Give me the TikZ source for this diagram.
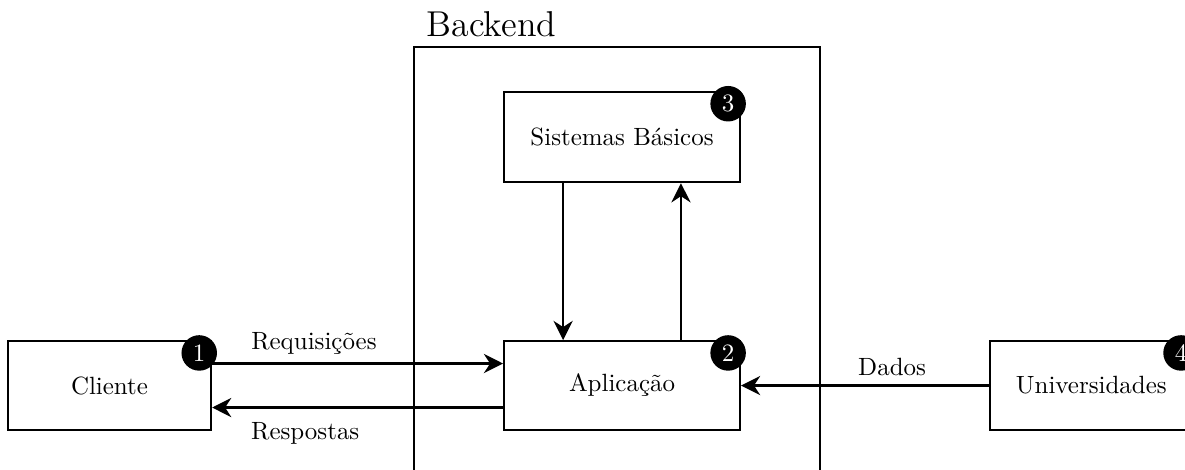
\documentclass[tikz,border=0pt]{standalone}
\usepackage{fontspec}
\usetikzlibrary{arrows.meta}

\begin{document}
\begin{tikzpicture}[
    caixa/.style={draw, line width=0.9pt, minimum width=2.86cm, minimum height=1.25cm},
    numero/.style={circle, fill=black, text=white, inner sep=0pt, minimum size=0.5cm, anchor=north east},
    seta/.style={line width=0.9pt, -{Stealth[length=2.7mm, width=2.7mm]}}
]
    \useasboundingbox (0,0) rectangle (16.69,6.606);
    % area do backend, aberta embaixo
    \node[draw, line width=0.9pt, minimum width=5.718cm, minimum height=6.944cm] (backend) at (8.69,2.472) {};
    \node[anchor=south west, font=\Large, xshift=2pt] (rotulo) at (backend.north west) {Backend};
    % caixas
    \node[caixa] (cliente) at (1.542,1.176) {Cliente};
    \node[caixa, minimum width=3.32cm] (app) at (8.761,1.176) {Aplicação};
    \node[caixa, minimum width=3.32cm, minimum height=1.27cm] (sis) at (8.761,4.676) {Sistemas Básicos};
    \node[caixa] (uni) at (15.37,1.176) {Universidades};
    % numeros
    \node[numero] (n1) at (cliente.north east) {1};
    \node[numero] (n2) at (app.north east) {2};
    \node[numero] (n3) at (sis.north east) {3};
    \node[numero] (n4) at (uni.north east) {4};
    % ligacoes
    \draw[seta] ([yshift=3.1mm]cliente.east) -- node[pos=0.35, above] {Requisições} ([yshift=3.1mm]app.west);
    \draw[seta] ([yshift=-3.1mm]app.west) -- node[pos=0.68, below=2pt] {Respostas} ([yshift=-3.1mm]cliente.east);
    \draw[seta] ([xshift=-8.3mm]sis.south) -- ([xshift=-8.3mm]app.north);
    \draw[seta] ([xshift=8.3mm]app.north) -- ([xshift=8.3mm]sis.south);
    \draw[seta] (uni.west) -- node[pos=0.39, above] {Dados} (app.east);
\end{tikzpicture}
\end{document}
